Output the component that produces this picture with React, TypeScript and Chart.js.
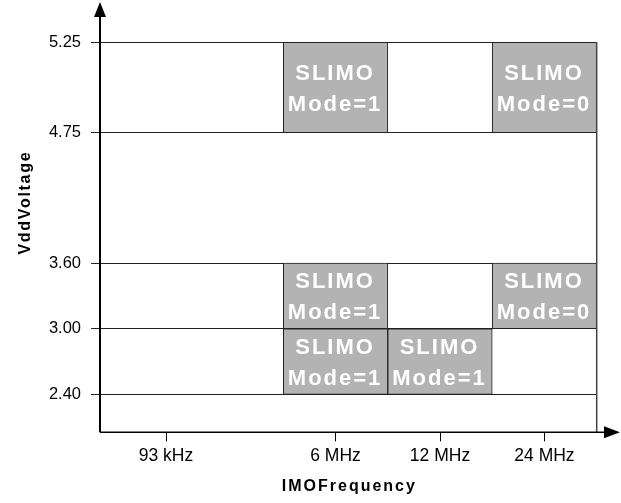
import React, { useEffect, useRef } from "react";
import { Chart, registerables, LinearScale } from "chart.js";

Chart.register(...registerables);

// ---- data ----
const FREQ_LABELS = ["93 kHz", "6 MHz", "12 MHz", "24 MHz"];
const VOLT_TICKS = [2.4, 3.0, 3.6, 4.75, 5.25];
const BOX_FREQ = ["6 MHz", "6 MHz", "6 MHz", "12 MHz", "24 MHz", "24 MHz"];
const BOX_VMIN = [4.75, 3.0, 2.4, 2.4, 4.75, 3.0];
const BOX_VMAX = [5.25, 3.6, 3.0, 3.0, 5.25, 3.6];
const BOX_MODE = [1, 1, 1, 1, 0, 0];
const BOX_NAME = "SLIMO";
const X_TITLE = "IMOFrequency";
const Y_TITLE = "VddVoltage";

// ---- axis layout (value -> fraction of axis length, piecewise) ----
const X_STOPS = [-0.5, 0, 0.5, 3.5];
const X_FRACS = [0, 0.1329, 0.3691, 1];
const Y_STOPS = [2.0, 2.4, 3.0, 3.6, 4.75, 5.25];
const Y_FRACS = [0, 0.0974, 0.2656, 0.4341, 0.7682, 1];

function interp(v: number, xs: number[], ys: number[]): number {
  const n = xs.length - 1;
  if (v <= xs[0]) return ys[0] + ((v - xs[0]) * (ys[1] - ys[0])) / (xs[1] - xs[0]);
  for (let i = 1; i <= n; i++) {
    if (v <= xs[i]) {
      const t = (v - xs[i - 1]) / (xs[i] - xs[i - 1]);
      return ys[i - 1] + t * (ys[i] - ys[i - 1]);
    }
  }
  return ys[n] + ((v - xs[n]) * (ys[n] - ys[n - 1])) / (xs[n] - xs[n - 1]);
}

function makeScale(scaleId: string, stops: number[], fracs: number[]) {
  class PiecewiseScale extends (LinearScale as any) {
    static id = scaleId;
    static defaults = (LinearScale as any).defaults;
    getPixelForValue(value: any) {
      if (value === null || value === undefined || isNaN(value)) return NaN;
      return (this as any).getPixelForDecimal(interp(Number(value), stops, fracs));
    }
    getValueForPixel(pixel: number) {
      return interp((this as any).getDecimalForPixel(pixel), fracs, stops);
    }
  }
  return PiecewiseScale;
}

Chart.register(makeScale("freqPiecewise", X_STOPS, X_FRACS) as any);
Chart.register(makeScale("voltPiecewise", Y_STOPS, Y_FRACS) as any);

const FONT = '"Liberation Sans", Arial, sans-serif';

function spacedText(ctx: CanvasRenderingContext2D, text: string, cx: number, y: number, spacing: number) {
  (ctx as any).letterSpacing = spacing + "px";
  const w = ctx.measureText(text).width - spacing;
  ctx.textAlign = "left";
  ctx.fillText(text, cx - w / 2, y);
}

const decorPlugin = {
  id: "decor",
  afterDatasetsDraw(chart: any) {
    const ctx: CanvasRenderingContext2D = chart.ctx;
    const meta = chart.getDatasetMeta(0);
    ctx.save();
    ctx.fillStyle = "#ffffff";
    ctx.font = "bold 22px " + FONT;
    ctx.textBaseline = "alphabetic";
    meta.data.forEach((el: any, i: number) => {
      const { x, y, base } = el.getProps(["x", "y", "base"], true);
      const mid = (y + base) / 2;
      spacedText(ctx, BOX_NAME, x - 1.5, mid - 8, 2);
      spacedText(ctx, "Mode=" + BOX_MODE[i], x - 1.5, mid + 23, 2);
    });
    ctx.restore();
  },
  afterDraw(chart: any) {
    const ctx: CanvasRenderingContext2D = chart.ctx;
    const ca = chart.chartArea;
    const W = chart.width;
    ctx.save();
    // right border of plot
    ctx.strokeStyle = "#444";
    ctx.lineWidth = 1.5;
    ctx.beginPath();
    ctx.moveTo(ca.right, ca.top);
    ctx.lineTo(ca.right, ca.bottom);
    ctx.stroke();
    // y axis with arrow
    ctx.strokeStyle = "#000";
    ctx.fillStyle = "#000";
    ctx.lineWidth = 2;
    ctx.beginPath();
    ctx.moveTo(ca.left, ca.bottom);
    ctx.lineTo(ca.left, 15);
    ctx.stroke();
    ctx.beginPath();
    ctx.moveTo(ca.left - 6, 17);
    ctx.lineTo(ca.left + 6, 17);
    ctx.lineTo(ca.left, 2);
    ctx.closePath();
    ctx.fill();
    // x axis with arrow
    ctx.lineWidth = 1.5;
    ctx.beginPath();
    ctx.moveTo(ca.left, ca.bottom);
    ctx.lineTo(W - 15, ca.bottom);
    ctx.stroke();
    ctx.beginPath();
    ctx.moveTo(W - 17, ca.bottom - 6);
    ctx.lineTo(W - 17, ca.bottom + 6);
    ctx.lineTo(W - 1, ca.bottom);
    ctx.closePath();
    ctx.fill();
    // axis titles
    ctx.font = "bold 16px " + FONT;
    ctx.textBaseline = "alphabetic";
    spacedText(ctx, X_TITLE, (ca.left + ca.right) / 2, ca.bottom + 58.7, 2);
    ctx.translate(29.6, 203.5);
    ctx.rotate(-Math.PI / 2);
    spacedText(ctx, Y_TITLE, 0, 0, 1.7);
    ctx.restore();
  },
};

export default function App() {
  const ref = useRef<HTMLCanvasElement>(null);
  useEffect(() => {
    const boxData = BOX_FREQ.map((f, i) => ({
      x: FREQ_LABELS.indexOf(f),
      y: [BOX_VMIN[i], BOX_VMAX[i]],
    }));
    const chart = new Chart(ref.current as HTMLCanvasElement, {
      type: "bar",
      data: {
        datasets: [
          {
            data: boxData as any,
            backgroundColor: "#b3b3b3",
            borderColor: "#222222",
            borderWidth: 1,
            borderSkipped: false,
            barPercentage: 1,
            categoryPercentage: 1,
            grouped: false,
          } as any,
        ],
      },
      options: {
        animation: false,
        responsive: true,
        maintainAspectRatio: false,
        events: [],
        layout: { padding: { left: 0, right: 24.3, top: 42.3, bottom: 0 } },
        plugins: { legend: { display: false }, tooltip: { enabled: false }, title: { display: false } },
        scales: {
          x: {
            type: "freqPiecewise" as any,
            min: X_STOPS[0],
            max: X_STOPS[X_STOPS.length - 1],
            offset: false,
            afterBuildTicks: (scale: any) => {
              scale.ticks = FREQ_LABELS.map((_, i) => ({ value: i }));
            },
            afterFit: (scale: any) => {
              scale.height = 70.7;
            },
            grid: {
              display: true,
              offset: false,
              drawOnChartArea: false,
              drawTicks: true,
              tickLength: 9,
              color: "#000",
              lineWidth: 1,
            },
            border: { display: false },
            ticks: {
              autoSkip: false,
              maxRotation: 0,
              minRotation: 0,
              padding: 4,
              color: "#000",
              font: { family: FONT, size: 17.5 },
              callback: (v: any) => FREQ_LABELS[Number(v)] ?? "",
            },
          } as any,
          y: {
            type: "voltPiecewise" as any,
            min: Y_STOPS[0],
            max: Y_STOPS[Y_STOPS.length - 1],
            beginAtZero: false,
            afterBuildTicks: (scale: any) => {
              scale.ticks = VOLT_TICKS.map((v) => ({ value: v }));
            },
            afterFit: (scale: any) => {
              scale.width = 100;
            },
            grid: {
              display: true,
              drawOnChartArea: true,
              drawTicks: true,
              tickLength: 9,
              color: "#222",
              lineWidth: 1,
            },
            border: { display: false },
            ticks: {
              autoSkip: false,
              padding: 10,
              color: "#000",
              font: { family: FONT, size: 16.5 },
              callback: (v: any) => Number(v).toFixed(2),
            },
          } as any,
        },
      },
      plugins: [decorPlugin as any],
    });
    return () => chart.destroy();
  }, []);
  return (
    <div style={{ position: "fixed", left: 0, top: 0, width: 621, height: 503, background: "#fff" }}>
      <canvas ref={ref} />
    </div>
  );
}
